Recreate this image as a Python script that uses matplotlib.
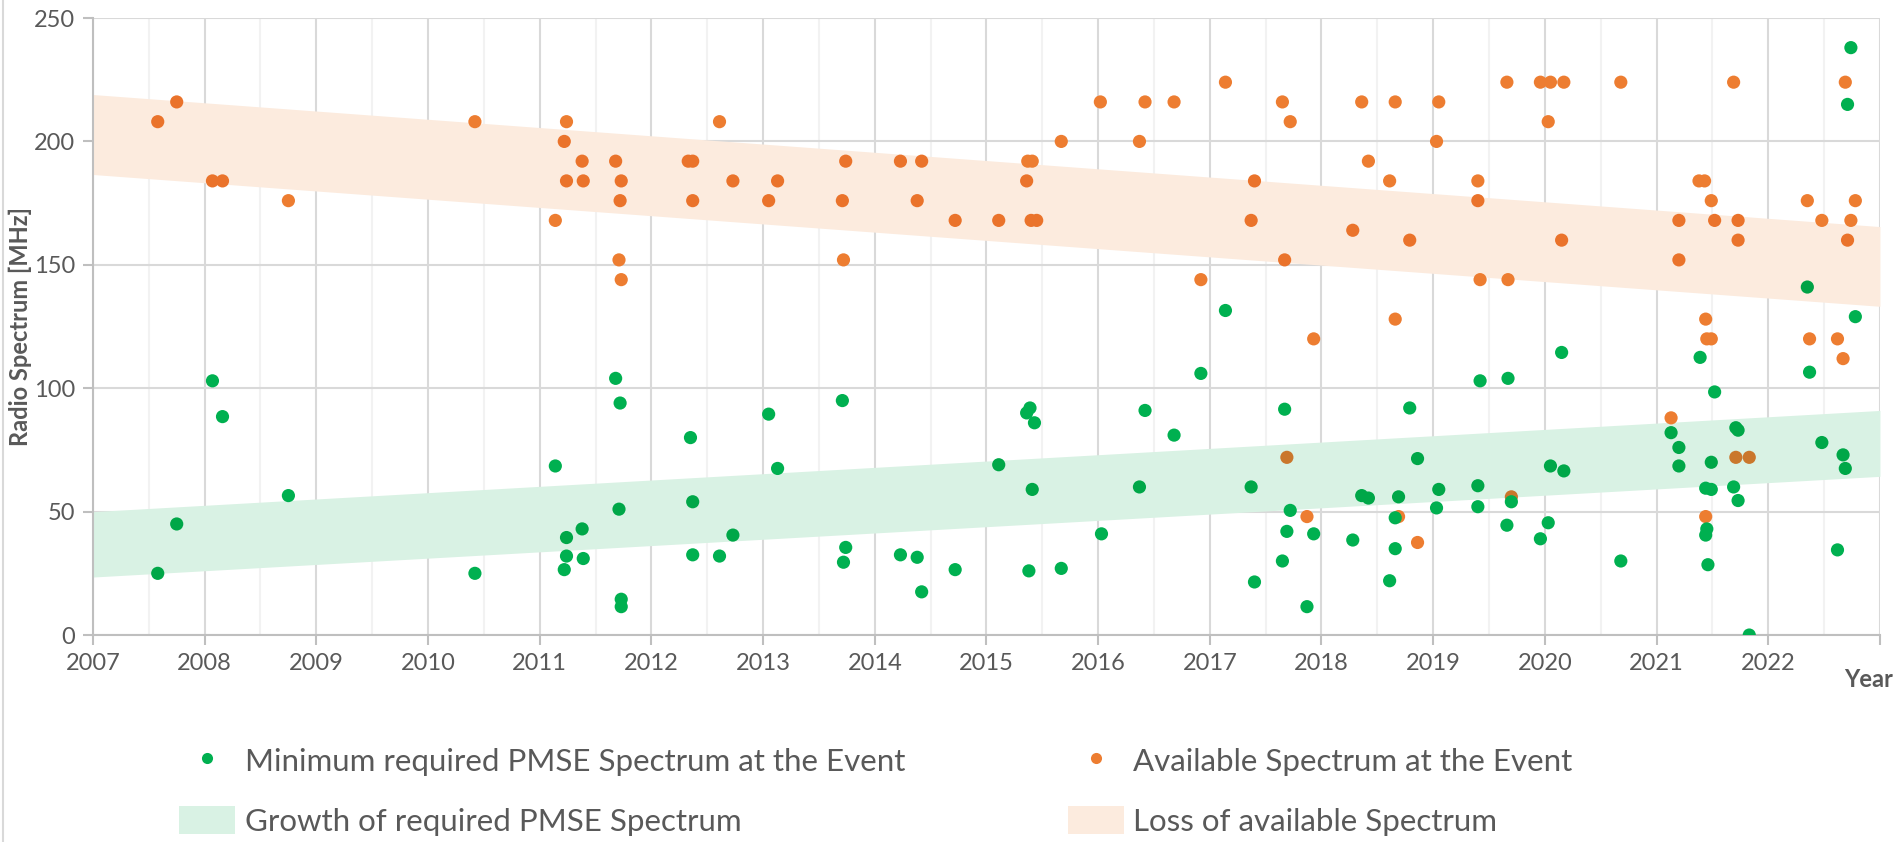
import matplotlib
matplotlib.use("Agg")
import matplotlib.pyplot as plt
from matplotlib.lines import Line2D
from matplotlib.patches import Patch
import numpy as np

plt.rcParams["font.family"] = ["Lato", "DejaVu Sans"]

# Minimum required PMSE spectrum per event (year, MHz)
req_year = [2007.58, 2007.75, 2008.07, 2008.16, 2008.75,
            2010.42, 2011.14, 2011.22, 2011.24, 2011.24, 2011.38, 2011.39, 2011.68, 2011.71,
            2011.72, 2011.73, 2011.73, 2012.35, 2012.37, 2012.37,
            2012.61, 2012.73, 2013.05, 2013.13, 2013.71, 2013.72, 2013.74, 2014.23, 2014.38,
            2014.42, 2014.72, 2015.11,
            2015.36, 2015.39, 2015.43, 2015.41, 2015.38, 2015.67, 2016.03, 2016.37, 2016.42,
            2016.68, 2016.92, 2017.14, 2017.37, 2017.40, 2017.65, 2017.67, 2017.69, 2017.72,
            2017.87, 2017.93, 2018.28, 2018.36, 2018.42, 2018.61, 2018.66, 2018.66, 2018.69,
            2018.79, 2018.86, 2019.03, 2019.05, 2019.40, 2019.40, 2019.42, 2019.66, 2019.67,
            2019.70, 2019.96, 2020.03, 2020.05, 2020.15, 2020.17,
            2020.68, 2021.13, 2021.20, 2021.20, 2021.39, 2021.44, 2021.44, 2021.45, 2021.46,
            2021.49, 2021.49, 2021.52, 2021.69, 2021.71, 2021.73, 2021.73, 2021.83, 2022.35,
            2022.37, 2022.48, 2022.62, 2022.67, 2022.69, 2022.71, 2022.74, 2022.78]
req_mhz = [25, 45, 103, 88.5, 56.5,
           25, 68.5, 26.5, 32, 39.5, 43, 31, 104, 51,
           94, 14.5, 11.5, 80, 54, 32.5,
           32, 40.5, 89.5, 67.5, 95, 29.5, 35.5, 32.5, 31.5,
           17.5, 26.5, 69,
           90, 92, 86, 59, 26, 27, 41, 60, 91,
           81, 106, 131.5, 60, 21.5, 30, 91.5, 42, 50.5,
           11.5, 41, 38.5, 56.5, 55.5, 22, 47.5, 35, 56,
           92, 71.5, 51.5, 59, 60.5, 52, 103, 44.5, 104,
           54, 39, 45.5, 68.5, 114.5, 66.5,
           30, 82, 76, 68.5, 112.5, 59.5, 40.5, 43, 28.5,
           59, 70, 98.5, 60, 84, 83, 54.5, 0, 141,
           106.5, 78, 34.5, 73, 67.5, 215, 238, 129]

# Available spectrum per event (year, MHz)
avail_year = [2007.58, 2007.75, 2008.07, 2008.16, 2008.75,
              2010.42, 2011.14, 2011.22, 2011.24, 2011.24, 2011.38, 2011.39, 2011.68, 2011.71,
              2011.72, 2011.73, 2011.73, 2012.33, 2012.37, 2012.37,
              2012.61, 2012.73, 2013.05, 2013.13, 2013.71, 2013.72, 2013.74, 2014.23, 2014.38,
              2014.42, 2014.72, 2015.11,
              2015.36, 2015.37, 2015.41, 2015.40, 2015.45, 2015.67, 2016.02, 2016.37, 2016.42,
              2016.68, 2016.92, 2017.14, 2017.37, 2017.40, 2017.65, 2017.67, 2017.69, 2017.72,
              2017.87, 2017.93, 2018.28, 2018.36, 2018.42, 2018.61, 2018.66, 2018.66, 2018.69,
              2018.79, 2018.86, 2019.03, 2019.05, 2019.40, 2019.40, 2019.42, 2019.66, 2019.67,
              2019.70, 2019.96, 2020.03, 2020.05, 2020.15, 2020.17,
              2020.68, 2021.13, 2021.20, 2021.20, 2021.38, 2021.43, 2021.44, 2021.44, 2021.45,
              2021.49, 2021.49, 2021.52, 2021.69, 2021.71, 2021.73, 2021.73, 2021.83,
              2022.35, 2022.37, 2022.48, 2022.62, 2022.67, 2022.69, 2022.71, 2022.74, 2022.78]
avail_mhz = [208, 216, 184, 184, 176,
             208, 168, 200, 208, 184, 192, 184, 192, 152,
             176, 184, 144, 192, 192, 176,
             208, 184, 176, 184, 176, 152, 192, 192, 176,
             192, 168, 168,
             184, 192, 192, 168, 168, 200, 216, 200, 216,
             216, 144, 224, 168, 184, 216, 152, 72, 208,
             48, 120, 164, 216, 192, 184, 216, 128, 48,
             160, 37.5, 200, 216, 184, 176, 144, 224, 144,
             56, 224, 208, 224, 160, 224,
             224, 88, 168, 152, 184, 184, 128, 48, 120,
             120, 176, 168, 224, 72, 168, 160, 72,
             176, 120, 168, 120, 112, 224, 160, 168, 176]

# Trend bands (start / end of the time axis)
band_year = [2007, 2023]
growth_low = [23.5, 64.3]
growth_high = [50, 91]
loss_low = [186.6, 133.2]
loss_high = [219, 165.5]

year_ticks = list(range(2007, 2024))
year_labels = [str(y) for y in range(2007, 2023)] + [""]

GREEN = "#00B050"
ORANGE = "#ED7D31"
GREEN_BAND = "#D9F2E4"
ORANGE_BAND = "#FCEBDE"
GRAY_TXT = "#595959"


def band_tint(xs, ys, color):
    """Darken point colours where a translucent band lies on top (multiply look)."""
    base = np.array(matplotlib.colors.to_rgb(color))
    out = []
    for x, y in zip(xs, ys):
        c = base.copy()
        for lo, hi, bc in [(growth_low, growth_high, GREEN_BAND), (loss_low, loss_high, ORANGE_BAND)]:
            if np.interp(x, band_year, lo) <= y <= np.interp(x, band_year, hi):
                c = c * np.array(matplotlib.colors.to_rgb(bc))
        out.append(c)
    return out


fig = plt.figure(figsize=(18.97, 8.42), dpi=100)
ax = fig.add_axes([0.049, 0.2458, 0.942, 0.7328])

ax.fill_between(band_year, growth_low, growth_high, color=GREEN_BAND, lw=0, zorder=1)
ax.fill_between(band_year, loss_low, loss_high, color=ORANGE_BAND, lw=0, zorder=1)

ax.scatter(avail_year, avail_mhz, s=90, c=band_tint(avail_year, avail_mhz, ORANGE), lw=0, zorder=3)
ax.scatter(req_year, req_mhz, s=90, c=band_tint(req_year, req_mhz, GREEN), lw=0, zorder=3)

ax.set_xlim(2007, 2023)
ax.set_ylim(0, 250)
ax.set_xticks(year_ticks)
ax.set_xticklabels(year_labels)
ax.set_xticks(np.arange(2007.5, 2023, 1.0), minor=True)
ax.set_yticks(range(0, 251, 50))
ax.grid(True, which="major", color="#D9D9D9", lw=1.5, zorder=0)
ax.grid(True, which="minor", axis="x", color="#F2F2F2", lw=1.5, zorder=0)
ax.set_axisbelow(True)
ax.tick_params(which="major", length=7, width=1.5, color="#BFBFBF", labelcolor=GRAY_TXT,
               labelsize=17, pad=6)
ax.tick_params(which="minor", length=0)
for side in ["top", "right"]:
    ax.spines[side].set_visible(False)
for side in ["left", "bottom"]:
    ax.spines[side].set_color("#BFBFBF")
    ax.spines[side].set_linewidth(1.5)

ax.set_ylabel("Radio Spectrum [MHz]", fontsize=17, fontweight="bold", color=GRAY_TXT)
ax.yaxis.set_label_coords(-0.034, 0.5)
fig.text(0.998, 0.193, "Year", ha="right", va="center",
         fontsize=17, fontweight="bold", color=GRAY_TXT)

handles = [
    Line2D([], [], ls="", marker="o", ms=8, mfc=GREEN, mec="none"),
    Patch(facecolor=GREEN_BAND, edgecolor="none"),
    Line2D([], [], ls="", marker="o", ms=8, mfc=ORANGE, mec="none"),
    Patch(facecolor=ORANGE_BAND, edgecolor="none"),
]
labels = ["Minimum required PMSE Spectrum at the Event", "Growth of required PMSE Spectrum",
          "Available Spectrum at the Event", "Loss of available Spectrum"]
fig.legend(handles, labels, loc="upper left", bbox_to_anchor=(0.0944, 0.114), ncol=2,
           frameon=False, fontsize=22.5, labelcolor=GRAY_TXT, borderpad=0, borderaxespad=0,
           handlelength=1.8, handleheight=1.0, handletextpad=0.3, labelspacing=0.98,
           columnspacing=5.2)

fig.add_artist(Line2D([0.0015, 0.0015], [0, 1], color="#D9D9D9", lw=1.5, transform=fig.transFigure))

fig.savefig("out.png", dpi=100)
